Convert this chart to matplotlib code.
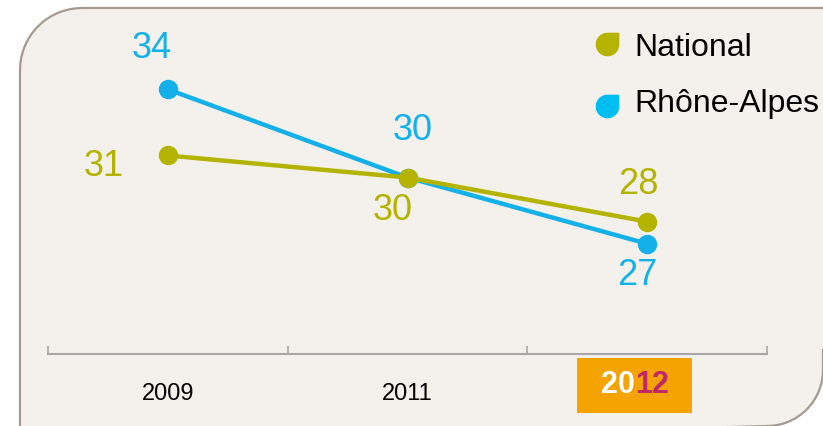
import numpy as np
import matplotlib
matplotlib.use("Agg")
import matplotlib.pyplot as plt
from matplotlib.patches import PathPatch, Rectangle
from matplotlib.path import Path
from matplotlib.lines import Line2D

plt.rcParams['font.family'] = ['Liberation Sans', 'DejaVu Sans']

# ── data ─────────────────────────────────────────────────────────────────────
years = ['2009', '2011', '2012']
national = [31, 30, 28]
rhone_alpes = [34, 30, 27]
series_names = ['National', 'Rhône-Alpes']

# ── style ────────────────────────────────────────────────────────────────────
OLIVE = '#b4b400'
BLUE = '#14b0ea'
BG = '#f4f1ed'
BORDER = '#a39a92'
W, H = 823, 426

# label offsets (pixels) relative to each point
off_nat = [(-64, -11), (-15, -33), (-9, 37)]
off_rha = [(-16, 41), (5, 47), (-10, -32)]


def quarter(cx, cy, r, a0, a1, n=16):
    t = np.linspace(a0, a1, n)
    return [(cx + r * np.cos(a), cy + r * np.sin(a)) for a in t]


# leaf-shaped legend marker: round except the top-right corner
leaf_v = [(0, 1), (1, 1), (1, 0)]
leaf_v += quarter(0, 0, 1, 0, -np.pi / 2)[1:]
leaf_v += quarter(0, 0, 1, -np.pi / 2, -np.pi)[1:]
leaf_v += quarter(0, 0, 1, -np.pi, -3 * np.pi / 2)[1:]
leaf = Path(leaf_v, [Path.MOVETO] + [Path.LINETO] * (len(leaf_v) - 1))

fig = plt.figure(figsize=(W / 100, H / 100), dpi=100)
fig.patch.set_facecolor('white')

# panel outline in pixel coords (y measured from top), top-left and
# bottom-right corners rounded
R1, R2 = 62, 56
left, top, right, bottom = 20, 8, 823, 426
pv = [(left, bottom + 20)]
pv += quarter(left + R1, top + R1, R1, np.pi, 1.5 * np.pi)
pv += [(right + 20, top), (right + 20, bottom - R2 - 20), (right, bottom - R2 - 20)]
pv += quarter(right - R2, bottom - R2, R2, 0, 0.5 * np.pi)
pv += [(left, bottom + 20)]
pv = [(px / 100, (H - py) / 100) for px, py in pv]
panel = PathPatch(Path(pv), transform=fig.dpi_scale_trans, facecolor=BG,
                  edgecolor=BORDER, linewidth=1.6, zorder=0)
fig.add_artist(panel)

ax = fig.add_axes([48 / W, 1 - 354 / H, 719 / W, 354 / H])
ax.set_facecolor('none')
x = np.arange(len(years))

ax.plot(x, rhone_alpes, color=BLUE, lw=3.2, marker='o', ms=13, zorder=3)
ax.plot(x, national, color=OLIVE, lw=3.2, marker='o', ms=13, zorder=4)

for xi, v, off in zip(x, national, off_nat):
    ax.annotate(str(v), (xi, v), xytext=off, textcoords='offset pixels',
                ha='center', va='center', color=OLIVE, fontsize=26)
for xi, v, off in zip(x, rhone_alpes, off_rha):
    ax.annotate(str(v), (xi, v), xytext=off, textcoords='offset pixels',
                ha='center', va='center', color=BLUE, fontsize=26)

ax.set_xlim(-0.5, len(years) - 0.5)
ax.set_ylim(22, 38.05)
for s in ['left', 'right', 'top']:
    ax.spines[s].set_visible(False)
ax.spines['bottom'].set_color('#a8a8a8')
ax.spines['bottom'].set_linewidth(1.5)
ax.set_yticks([])
ax.set_xticks(x)
ax.set_xticklabels(years[:-1] + [''], fontsize=17)
ax.tick_params(axis='x', length=0, pad=21)
ax.set_xticks(np.arange(len(years) + 1) - 0.5, minor=True)
ax.tick_params(axis='x', which='minor', direction='in', length=6,
               color='#a8a8a8', width=1.2)

# highlighted last year
tr = ax.get_xaxis_transform()
ax.add_patch(Rectangle((1.708, -0.1667), 0.48, 0.1554, transform=tr,
                       facecolor='#f5a300', edgecolor='none', clip_on=False))
last = years[-1]
ax.text(1.95, -0.088, last[:2], transform=tr, ha='right', va='center',
        fontsize=22, fontweight='bold', color='white')
ax.text(1.95, -0.088, last[2:], transform=tr, ha='left', va='center',
        fontsize=22, fontweight='bold', color='#c0266a')

# legend
for i, (name, col) in enumerate(zip(series_names, [OLIVE, '#00bdf2'])):
    my = 1 - (44 + 62 * i) / H
    ty = 1 - (48 + 56 * i) / H
    fig.add_artist(Line2D([607 / W], [my], marker=leaf, ms=16, color=col,
                          lw=0, transform=fig.transFigure))
    fig.text(634 / W, ty, name, fontsize=23, va='center', ha='left')

fig.savefig('out.png', dpi=100)
